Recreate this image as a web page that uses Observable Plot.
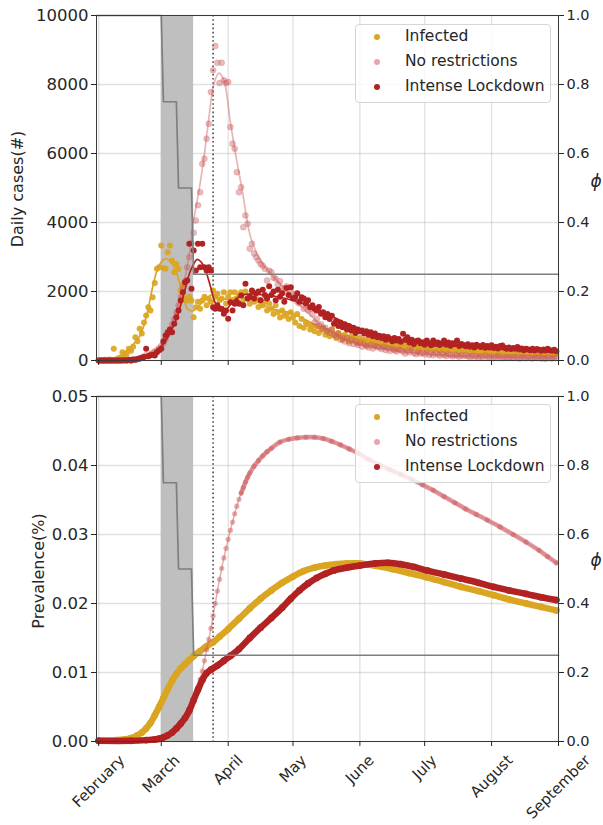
<!DOCTYPE html>
<html><head><meta charset="utf-8">
<script src="https://cdn.jsdelivr.net/npm/d3@7"></script>
<script src="https://cdn.jsdelivr.net/npm/@observablehq/plot@0.6"></script>
<style>
body{margin:0;background:#fff;font-family:"DejaVu Sans",sans-serif;}
#wrap{position:relative;width:603px;height:825px;overflow:hidden;background:#fff;}
.panel{position:absolute;left:0;}
.lbl{position:absolute;color:#262626;white-space:nowrap;font-size:16px;line-height:1;}
.legend{position:absolute;border:1px solid #d6d6d6;border-radius:4px;background:rgba(255,255,255,0.8);}
.ldot{position:absolute;width:6px;height:6px;border-radius:50%;}
.ltxt{position:absolute;font-size:15.5px;color:#262626;white-space:nowrap;line-height:1;}
</style></head><body><div id="wrap"></div>
<script>
// ---------- data ----------
const monthTicks = ["2020-02-01","2020-03-01","2020-04-01","2020-05-01","2020-06-01","2020-07-01","2020-08-01","2020-09-01"];
const monthLabels = ["February","March","April","May","June","July","August","September"];
const casesTicks = [0,2000,4000,6000,8000,10000];
const prevTicks = [0,0.01,0.02,0.03,0.04,0.05];
const phiTicks = [0,0.2,0.4,0.6,0.8,1.0];
const seriesNames = ["Infected","No restrictions","Intense Lockdown"];

// restriction level phi (right axis)
const phiDates = ["2020-01-31","2020-03-01","2020-03-02","2020-03-08","2020-03-09","2020-03-15","2020-03-16","2020-09-01"];
const phiValues = [1,1,0.75,0.75,0.5,0.5,0.25,0.25];
const shadeStart = "2020-03-01", shadeEnd = "2020-03-16";
const markerDate = "2020-03-25";

// daily cases, one value per day from Feb 1
const infectedDaily = [0,10,0,20,0,30,10,340,30,60, 90,240,150,200,340,280,400,675,560,920,
 780,1100,1305,1545,1450,1835,2250,2660,2700,3335, 2680,2660,3140,3335,2900,2560,2800,2650,2030,2200,
 1800,1740,1850,1740,1255,1545,1700,1500,1740,1850, 1600,1790,1700,2030,1850,1935,1750,1800,1980,1650,
 1850,1980,1700,1980,1800,1900,1980,1750,2000,1800, 1645,1900,1700,1800,1550,1750,1600,1700,1450,1650,
 1500,1350,1600,1400,1250,1450,1300,1350,1200,1400, 1250,1100,1350,1000,1200,950,1100,1050,900,1000,
 850,1000,800,900,950,750,850,700,900,750, 650,800,700,600,750,650,550,700,600,650,
 500,650,550,600,450,600,500,550,450,500, 550,450,500,400,550,450,400,500,350,450,
 400,500,350,450,400,350,450,400,300,400, 350,450,300,400,350,300,400,350,280,380,
 320,260,350,300,380,280,330,250,300,350, 280,320,240,300,260,330,220,290,250,310,
 240,280,220,300,250,210,270,230,290,200, 250,220,270,200,240,260,190,230,210,250,
 200,230,180,240,210,190,220,170,230,200, 180,210,190];
const noRestrDaily = [0,0,0,0,0,0,0,0,0,0, 0,0,10,0,20,0,30,20,40,60,
 80,110,150,130,180,220,260,300,360,420, 500,620,760,900,1050,1200,1400,1600,1850,2100,
 2300,2700,3000,3400,3700,4060,4500,4880,5700,5850, 6430,6865,7780,8410,9115,8630,8040,8630,8120,8040,
 8070,6765,6285,6140,5460,4880,5025,3865,4205,3965, 3240,3385,3100,2995,2900,2800,2750,2660,2320,2600,
 2560,2400,2370,2200,2300,2100,2050,2150,1900,2000, 1800,1900,1700,1650,1750,1500,1600,1450,1500,1350,
 1100,1200,1000,1050,900,950,850,800,900,750, 700,780,600,650,550,650,500,600,480,550,
 450,520,400,480,420,380,460,350,420,400, 380,330,400,300,360,280,340,300,260,320,
 300,260,200,280,240,300,220,180,250,200, 220,180,240,160,200,150,220,180,140,200,
 160,130,190,150,120,170,140,110,160,130, 150,120,100,140,110,130,90,120,100,140,
 110,90,120,80,100,130,90,70,110,90, 80,100,70,110,90,60,100,80,70,90,
 80,60,90,70,100,60,80,50,90,70, 60,80,70];
const lockdownDaily = [0,0,0,0,0,0,0,0,0,0, 0,0,10,0,20,0,30,20,40,60,
 80,100,340,120,150,170,145,240,300,340, 560,725,820,900,820,1065,1255,1450,1740,1980,
 2270,2320,3385,2080,3190,2610,3385,2705,3385,2705, 2610,2705,2610,1545,1500,1600,1500,1500,1355,1450,
 1210,1690,1450,1645,1700,1645,1885,1600,2225,1800, 1850,2030,1800,1950,2000,1750,2050,1900,1800,2150,
 1900,2000,1750,2050,1850,1950,1700,2100,1900,2125, 1800,1835,1950,1700,1835,1800,1650,1750,1545,1600,
 1500,1450,1550,1355,1400,1255,1350,1200,1300,1065, 1150,1000,1100,965,1050,900,1000,870,950,800,
 900,850,870,780,850,750,820,700,780,675, 720,650,700,600,680,620,560,650,580,620,
 540,775,600,675,520,600,480,560,580,500, 530,460,580,500,440,580,480,520,450,500,
 580,460,520,430,500,470,580,420,480,450, 410,470,400,440,380,460,420,390,450,370,
 420,380,440,360,400,350,420,435,370,340, 380,330,360,340,390,320,350,300,340,320,
 300,340,290,330,310,280,320,290,340,300, 280,310,270];

// smoothed daily cases (day offset from Feb 1, value)
const infectedFitDay = [0,5,9,14,19,22,25,27,29,31.4,33.5,35.7,38.8,41.1,43.4,45.5,48,50,52.7,56,60,65,70.4,75,79.7,85,90.4,95,101.2,106,111.9,121.2,132,144.4,152,160,170.6,186,201.3,212];
const infectedFitVal = [20,30,80,350,700,1255,2125,2600,2850,2950,2850,2610,1935,1500,1430,1520,1690,1800,1915,1800,1780,1850,1760,1650,1505,1430,1355,1200,1015,890,775,630,530,435,385,340,290,240,210,195];
const noRestrFitDay = [0,20,25,30,35,38,40,42,44,46.5,48.8,51.1,53.4,55.7,58,61.1,63.4,66.5,70.4,75,81.1,86,90,95,100,105,110,115,120,130,140,150,160,180,200,212];
const noRestrFitVal = [0,60,200,500,1250,1900,2400,3100,4060,4930,5895,7055,8025,8330,8120,6865,5990,4930,3575,2900,2415,2100,1800,1500,1200,950,750,600,480,350,260,200,150,110,85,70];
const lockdownFitDay = [0,15,21.8,26.4,31.1,35.7,39.5,42.6,45.7,47.5,49.5,51.9,54.2,57.3,59.5,61.9,65,68.1,70.4,75,79.7,85,90.4,95,101.2,106,111.9,121.2,132,144.4,150,160,171,186,200,212];
const lockdownFitVal = [0,10,95,240,580,1160,1935,2610,2930,2850,2610,2125,1645,1430,1500,1690,1850,1915,1935,1910,1885,1820,1740,1640,1500,1340,1160,920,725,530,490,440,400,330,290,260];

// prevalence (day offset from Feb 1, value)
const infectedPrevDay = [0,8,12,15,18,20,22,24,26,28,30,32,34,36,38,40,42,44,47,50,53,56,60,65,70,75,80,85,90,95,100,105,110,115,121,128,136,144,152,160,168,176,183,190,198,205,212];
const infectedPrevVal = [0.0001,0.0002,0.0003,0.0005,0.0009,0.0013,0.0019,0.0027,0.0038,0.0050,0.0063,0.0076,0.0088,0.0098,0.0106,0.0112,0.0118,0.0124,0.0131,0.0138,0.0144,0.0152,0.0163,0.0178,0.0193,0.0207,0.0219,0.0230,0.0239,0.0247,0.0252,0.0255,0.0257,0.0258,0.0258,0.0255,0.0250,0.0244,0.0238,0.0231,0.0224,0.0218,0.0212,0.0206,0.0200,0.0195,0.0190];
const noRestrPrevDay = [0,20,28,32,36,38,40,41,42,43,44,45,46,47,48,49,50,51,52,53,54,55,56,57,58,59,60,61,62,63,64,65,66,67,68,69,70,72,74,76,78,80,84,88,92,96,100,104,108,112,116,120,125,130,135,140,145,150,155,160,165,170,175,180,186,192,198,204,208,212];
const noRestrPrevVal = [0.0001,0.0002,0.0004,0.0009,0.0019,0.0026,0.0035,0.0040,0.0046,0.0053,0.0062,0.0070,0.0079,0.0090,0.0102,0.0117,0.0133,0.0148,0.0164,0.0182,0.0200,0.0218,0.0235,0.0251,0.0266,0.0280,0.0293,0.0306,0.0318,0.0330,0.0341,0.0351,0.0360,0.0368,0.0376,0.0383,0.0389,0.0399,0.0407,0.0414,0.0420,0.0425,0.0434,0.0438,0.0440,0.0441,0.0441,0.0439,0.0435,0.0430,0.0424,0.0418,0.0409,0.0401,0.0394,0.0387,0.0380,0.0372,0.0364,0.0355,0.0346,0.0337,0.0329,0.0321,0.0311,0.0300,0.0289,0.0277,0.0268,0.0259];
const lockdownPrevDay = [0,15,22,26,28,30,32,34,36,38,40,42,44,46,48,50,52,55,58,61,65,70,75,80,85,89,93,97,101,105,109,115,121,128,134,140,146,152,160,168,176,183,190,198,205,212];
const lockdownPrevVal = [0.0001,0.0001,0.0002,0.0003,0.0004,0.0006,0.0009,0.0013,0.0019,0.0026,0.0034,0.0045,0.0060,0.0075,0.0089,0.0099,0.0104,0.0110,0.0117,0.0124,0.0134,0.0150,0.0165,0.0179,0.0194,0.0207,0.0219,0.0229,0.0237,0.0243,0.0248,0.0252,0.0255,0.0258,0.0259,0.0257,0.0253,0.0248,0.0242,0.0236,0.0230,0.0224,0.0219,0.0214,0.0209,0.0205];

// ---------- helpers ----------
const COL = {inf:"#daa520", nr:"#cd5c5c", lock:"#b22222"};
const t0 = Date.UTC(2020,1,1);
const day = d => new Date(t0 + d*86400000);
const pts = (days, vals) => vals.map((v,i) => ({date: day(days[i]), v, d: days[i]}));
const daily = vals => pts(d3.range(vals.length), vals);
const xDomain = [new Date("2020-01-31"), new Date("2020-09-01")];
const monthDates = monthTicks.map(s => new Date(s));
const phiData = phiDates.map((s,i) => ({date: new Date(s), phi: phiValues[i]}));
const gridStyle = {stroke:"#b0b0b0", strokeOpacity:0.38, strokeWidth:1.3};
const ctx = document.createElement("canvas").getContext("2d");
ctx.font = "15px 'DejaVu Sans'";

function panel({height, mt, mb, yMax, yTicks, yFmt, dataMarks, xLabels}) {
  const marks = [
    Plot.gridY(yTicks, gridStyle),
    Plot.gridX(monthDates, gridStyle),
    Plot.rect([{a:new Date(shadeStart), b:new Date(shadeEnd)}], {x1:"a", x2:"b", y1:0, y2:yMax, fill:"#bfbfbf"}),
    Plot.ruleX([new Date(markerDate)], {stroke:"#222", strokeWidth:1.3, strokeDasharray:"1.6,2.6"}),
    ...dataMarks,
    Plot.line(phiData, {x:"date", y:d => d.phi*yMax, stroke:"#7f7f7f", strokeWidth:1.7}),
    Plot.frame({stroke:"#3a3a3a", strokeWidth:1}),
    Plot.axisY(yTicks, {anchor:"left", tickFormat:yFmt, fontSize:16.5, tickSize:5, tickPadding:3, label:null}),
    Plot.axisY(phiTicks.map(p => p*yMax), {anchor:"right", tickFormat:d => (d/yMax).toFixed(1), fontSize:14.5, tickSize:5, tickPadding:3, label:null}),
    Plot.axisX(monthDates, {anchor:"bottom", tickFormat:() => "", tickSize:5, label:null})
  ];
  if (xLabels) {
    monthLabels.forEach((lab,i) => {
      const w = ctx.measureText(lab).width;
      marks.push(Plot.text([monthDates[i]], {x:d => d, frameAnchor:"bottom", text:() => lab, rotate:-45,
        textAnchor:"middle", lineAnchor:"middle", fontSize:15, dy: 11 + (w + 15)*0.3536, fill:"#262626"}));
    });
  }
  return Plot.plot({
    width:603, height, marginTop:mt, marginBottom:mb, marginLeft:96, marginRight:45,
    x:{type:"utc", domain:xDomain, axis:null},
    y:{domain:[0,yMax], axis:null},
    style:{fontFamily:"DejaVu Sans", fontSize:"16px", color:"#262626", background:"transparent", overflow:"visible"},
    marks
  });
}

// ---------- top panel: daily cases ----------
const casesChart = panel({
  height:378, mt:15, mb:18, yMax:10000, yTicks:casesTicks, yFmt:d3.format("d"),
  dataMarks:[
    Plot.dot(daily(infectedDaily), {x:"date", y:"v", r:3, fill:COL.inf, fillOpacity:0.92}),
    Plot.line(pts(infectedFitDay, infectedFitVal), {x:"date", y:"v", curve:"catmull-rom", stroke:COL.inf, strokeWidth:1.7}),
    Plot.dot(daily(noRestrDaily), {x:"date", y:"v", r:3, fill:COL.nr, fillOpacity:0.42, stroke:COL.nr, strokeOpacity:0.3, strokeWidth:0.8}),
    Plot.line(pts(noRestrFitDay, noRestrFitVal), {x:"date", y:"v", curve:"catmull-rom", stroke:COL.nr, strokeOpacity:0.45, strokeWidth:1.7}),
    Plot.dot(daily(lockdownDaily), {x:"date", y:"v", r:3, fill:COL.lock}),
    Plot.line(pts(lockdownFitDay, lockdownFitVal), {x:"date", y:"v", curve:"catmull-rom", stroke:COL.lock, strokeWidth:1.7})
  ]
});

// ---------- bottom panel: prevalence ----------
const nrPrev = pts(noRestrPrevDay, noRestrPrevVal);
const prevChart = panel({
  height:447, mt:18, mb:84, yMax:0.05, yTicks:prevTicks, yFmt:d3.format(".2f"), xLabels:true,
  dataMarks:[
    Plot.line(pts(infectedPrevDay, infectedPrevVal), {x:"date", y:"v", curve:"catmull-rom", stroke:COL.inf, strokeWidth:6.5}),
    Plot.dot(pts(infectedPrevDay, infectedPrevVal), {x:"date", y:"v", r:3.4, fill:COL.inf}),
    Plot.line(nrPrev, {x:"date", y:"v", curve:"catmull-rom", stroke:COL.nr, strokeOpacity:0.5, strokeWidth:1.5}),
    Plot.line(nrPrev.filter(p => p.d >= 66), {x:"date", y:"v", curve:"catmull-rom", stroke:"#d77d84", strokeOpacity:0.8, strokeWidth:4.6}),
    Plot.dot(nrPrev, {x:"date", y:"v", r:2.6, fill:COL.nr, fillOpacity:0.5}),
    Plot.line(pts(lockdownPrevDay, lockdownPrevVal), {x:"date", y:"v", curve:"catmull-rom", stroke:COL.lock, strokeWidth:6.5}),
    Plot.dot(pts(lockdownPrevDay, lockdownPrevVal), {x:"date", y:"v", r:3.4, fill:COL.lock})
  ]
});

// ---------- assemble ----------
const wrap = document.getElementById("wrap");
const addPanel = (el, t) => { const d = document.createElement("div"); d.className = "panel"; d.style.top = t + "px"; d.appendChild(el); wrap.appendChild(d); };
addPanel(casesChart, 0);
addPanel(prevChart, 378);

function label(text, cx, cy, rot, extra) {
  const d = document.createElement("div");
  d.className = "lbl";
  d.textContent = text;
  d.style.left = cx + "px"; d.style.top = cy + "px";
  d.style.transform = "translate(-50%,-50%)" + (rot ? " rotate(" + rot + "deg)" : "");
  if (extra) Object.assign(d.style, extra);
  wrap.appendChild(d);
}
label("Daily cases(#)", 18, 189, -90);
label("Prevalence(%)", 38.5, 571, -90);
label("ϕ", 596, 181, 0, {fontStyle:"italic", fontSize:"17px"});
label("ϕ", 596, 560, 0, {fontStyle:"italic", fontSize:"17px"});

function legend(topY) {
  const box = document.createElement("div");
  box.className = "legend";
  Object.assign(box.style, {left:"355px", top:topY + "px", width:"194px", height:"77px"});
  wrap.appendChild(box);
  const cols = [COL.inf, "#e8a5af", COL.lock];
  seriesNames.forEach((name,i) => {
    const cy = topY + 13.3 + i*25;
    const dot = document.createElement("div");
    dot.className = "ldot";
    Object.assign(dot.style, {left:"374px", top:(cy-3) + "px", background:cols[i]});
    wrap.appendChild(dot);
    const t = document.createElement("div");
    t.className = "ltxt";
    t.textContent = name;
    Object.assign(t.style, {left:"405px", top:(cy-8.5) + "px"});
    wrap.appendChild(t);
  });
}
legend(24);
legend(404);
</script>
</body></html>
